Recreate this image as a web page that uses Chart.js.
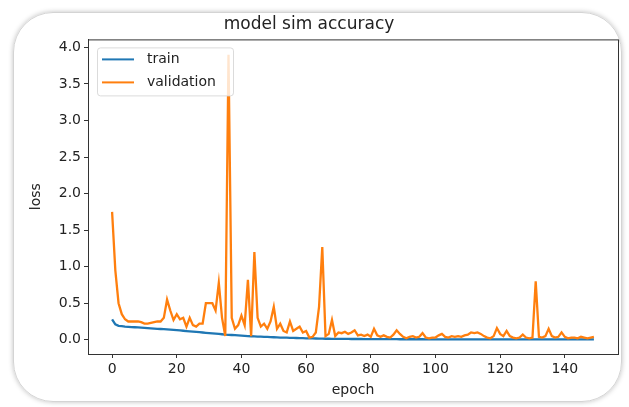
<!DOCTYPE html>
<html>
<head>
<meta charset="utf-8">
<script src="https://cdn.jsdelivr.net/npm/chart.js@4"></script>
<style>
  html, body { margin: 0; padding: 0; background: #fff; }
  #wrap { position: relative; width: 629px; height: 407px; overflow: hidden; }
  #frame {
    position: absolute; left: 13px; top: 12px; width: 607px; height: 388px;
    border-radius: 40px; border: 1px solid #d4d4d4;
    box-shadow: 0 0 5px rgba(0,0,0,0.25);
  }
  #chart { position: absolute; left: 0; top: 0; }
</style>
</head>
<body>
<div id="wrap">
  <div id="frame"></div>
  <canvas id="chart" width="629" height="407"></canvas>
</div>
<script>
    "use strict";

    var title = 'model sim accuracy';
    var xLabel = 'epoch';
    var yLabel = 'loss';
    var seriesNames = ['train', 'validation'];
    var xTicks = [0, 20, 40, 60, 80, 100, 120, 140];
    var yTicks = [0.0, 0.5, 1.0, 1.5, 2.0, 2.5, 3.0, 3.5, 4.0];

    var trainLoss = [
        0.28, 0.21, 0.19, 0.185, 0.18, 0.177, 0.174, 0.171, 0.168, 0.165,
        0.162, 0.159, 0.156, 0.153, 0.15, 0.147, 0.144, 0.141, 0.138, 0.135,
        0.131, 0.127, 0.123, 0.119, 0.115, 0.111, 0.107, 0.103, 0.099, 0.095,
        0.091, 0.087, 0.083, 0.079, 0.075, 0.071, 0.068, 0.065, 0.062, 0.059,
        0.056, 0.053, 0.05, 0.048, 0.046, 0.044, 0.042, 0.04, 0.038, 0.036,
        0.034, 0.032, 0.03, 0.029, 0.028, 0.026, 0.025, 0.024, 0.022, 0.021,
        0.02, 0.019, 0.018, 0.017, 0.016, 0.015, 0.014, 0.014, 0.013, 0.012,
        0.012, 0.011, 0.011, 0.011, 0.01, 0.01, 0.01, 0.01, 0.009, 0.009,
        0.009, 0.009, 0.009, 0.008, 0.008, 0.008, 0.008, 0.008, 0.008, 0.007,
        0.007, 0.007, 0.007, 0.007, 0.007, 0.007, 0.007, 0.006, 0.006, 0.006,
        0.006, 0.006, 0.006, 0.006, 0.006, 0.006, 0.006, 0.006, 0.005, 0.005,
        0.005, 0.005, 0.005, 0.005, 0.005, 0.005, 0.005, 0.005, 0.005, 0.005,
        0.005, 0.005, 0.005, 0.005, 0.005, 0.004, 0.004, 0.004, 0.004, 0.004,
        0.004, 0.004, 0.004, 0.004, 0.004, 0.004, 0.004, 0.004, 0.004, 0.004,
        0.004, 0.004, 0.004, 0.004, 0.004, 0.004, 0.004, 0.004, 0.004, 0.004
    ];

    var valLoss = [
        1.75, 0.95, 0.5, 0.35, 0.28, 0.25, 0.25, 0.25, 0.25, 0.24,
        0.22, 0.22, 0.23, 0.24, 0.25, 0.25, 0.3, 0.55, 0.4, 0.27,
        0.35, 0.28, 0.3, 0.18, 0.3, 0.2, 0.18, 0.22, 0.22, 0.5,
        0.5, 0.5, 0.4, 0.78, 0.3, 0.05, 3.9, 0.3, 0.15, 0.2,
        0.33, 0.2, 0.82, 0.05, 1.2, 0.3, 0.18, 0.22, 0.15, 0.25,
        0.45, 0.15, 0.22, 0.12, 0.1, 0.25, 0.12, 0.15, 0.18, 0.1,
        0.12, 0.03, 0.04, 0.1, 0.45, 1.27, 0.05, 0.08, 0.27, 0.05,
        0.1, 0.09, 0.11, 0.08, 0.1, 0.13, 0.06, 0.07, 0.05, 0.07,
        0.04, 0.15, 0.06, 0.04, 0.06, 0.04, 0.03, 0.07, 0.13, 0.08,
        0.04, 0.02, 0.04, 0.05, 0.03, 0.04, 0.09, 0.03, 0.02, 0.03,
        0.03, 0.06, 0.08, 0.04, 0.03, 0.05, 0.04, 0.05, 0.04, 0.06,
        0.07, 0.1, 0.09, 0.1, 0.08, 0.05, 0.03, 0.02, 0.05, 0.16,
        0.08, 0.05, 0.12, 0.05, 0.03, 0.02, 0.03, 0.07, 0.03, 0.02,
        0.03, 0.8, 0.04, 0.03, 0.05, 0.15, 0.05, 0.03, 0.04, 0.1,
        0.04, 0.02, 0.03, 0.03, 0.02, 0.04, 0.03, 0.02, 0.03, 0.04
    ];

    var colors = ['#1f77b4', '#ff7f0e'];
    var textColor = '#222';
    var fontFamily = '"DejaVu Sans", sans-serif';

    function toPoints(values) {
        return values.map(function (v, i) {
            return {x: i, y: v};
        });
    }

    // matplotlib style closed axes box
    var boxPlugin = {
        id: 'axesBox',
        afterDatasetsDraw: function (chart) {
            var a = chart.chartArea;
            var ctx = chart.ctx;
            ctx.save();
            ctx.strokeStyle = '#333';
            ctx.lineWidth = 1;
            ctx.strokeRect(a.left + 0.5, a.top + 0.5, a.right - a.left, a.bottom - a.top);
            ctx.restore();
        }
    };

    // legend drawn inside the plot, upper left
    var legendPlugin = {
        id: 'innerLegend',
        afterDraw: function (chart) {
            var ctx = chart.ctx;
            var a = chart.chartArea;
            var x0 = a.left + 9, y0 = a.top + 8, w = 136, h = 48;
            ctx.save();
            ctx.fillStyle = 'rgba(255,255,255,0.8)';
            ctx.strokeStyle = 'rgba(215,215,215,0.9)';
            ctx.lineWidth = 1;
            ctx.beginPath();
            ctx.roundRect(x0 + 0.5, y0 + 0.5, w, h, 3);
            ctx.fill();
            ctx.stroke();
            ctx.font = '14px ' + fontFamily;
            ctx.textBaseline = 'middle';
            chart.data.datasets.forEach(function (ds, i) {
                var y = y0 + 12 + i * 23;
                ctx.strokeStyle = ds.borderColor;
                ctx.lineWidth = 2;
                ctx.beginPath();
                ctx.moveTo(x0 + 5, y);
                ctx.lineTo(x0 + 37, y);
                ctx.stroke();
                ctx.fillStyle = textColor;
                ctx.fillText(ds.label, x0 + 50, y);
            });
            ctx.restore();
        }
    };

    var ctx = document.getElementById('chart');
    var chart = new Chart(ctx, {
        type: 'line',
        data: {
            datasets: [
                {
                    label: seriesNames[0],
                    data: toPoints(trainLoss),
                    borderColor: colors[0],
                    borderWidth: 2.3,
                    pointRadius: 0,
                    order: 1
                },
                {
                    label: seriesNames[1],
                    data: toPoints(valLoss),
                    borderColor: colors[1],
                    borderWidth: 2.3,
                    pointRadius: 0,
                    order: 0
                }
            ]
        },
        options: {
            responsive: false,
            animation: false,
            layout: {padding: {left: 0, right: 11, top: 0, bottom: 0}},
            plugins: {
                legend: {display: false},
                tooltip: {enabled: false},
                title: {
                    display: true,
                    text: title,
                    color: textColor,
                    font: {family: fontFamily, size: 17, weight: 'normal'},
                    padding: {top: 14, bottom: 5}
                }
            },
            scales: {
                x: {
                    type: 'linear',
                    min: -7.45,
                    max: 156.45,
                    afterBuildTicks: function (axis) {
                        axis.ticks = xTicks.map(function (v) { return {value: v}; });
                    },
                    afterFit: function (axis) { axis.height = 53; },
                    grid: {drawOnChartArea: false, drawTicks: true, tickLength: 4, color: '#333'},
                    border: {display: true, color: '#333'},
                    ticks: {
                        color: textColor,
                        font: {family: fontFamily, size: 14},
                        padding: 3,
                        maxRotation: 0,
                        callback: function (v) { return String(v); }
                    },
                    title: {
                        display: true,
                        text: xLabel,
                        color: textColor,
                        font: {family: fontFamily, size: 14},
                        padding: {top: 0, bottom: 8}
                    }
                },
                y: {
                    type: 'linear',
                    min: -0.195,
                    max: 4.11,
                    afterBuildTicks: function (axis) {
                        axis.ticks = yTicks.map(function (v) { return {value: v}; });
                    },
                    afterFit: function (axis) { axis.width = 88; },
                    grid: {drawOnChartArea: false, drawTicks: true, tickLength: 4, color: '#333'},
                    border: {display: true, color: '#333'},
                    ticks: {
                        color: textColor,
                        font: {family: fontFamily, size: 14},
                        padding: 3,
                        callback: function (v) { return v.toFixed(1); }
                    },
                    title: {
                        display: true,
                        text: yLabel,
                        color: textColor,
                        font: {family: fontFamily, size: 14},
                        padding: {top: 28, bottom: 0}
                    }
                }
            }
        },
        plugins: [boxPlugin, legendPlugin]
    });
</script>
</body>
</html>
